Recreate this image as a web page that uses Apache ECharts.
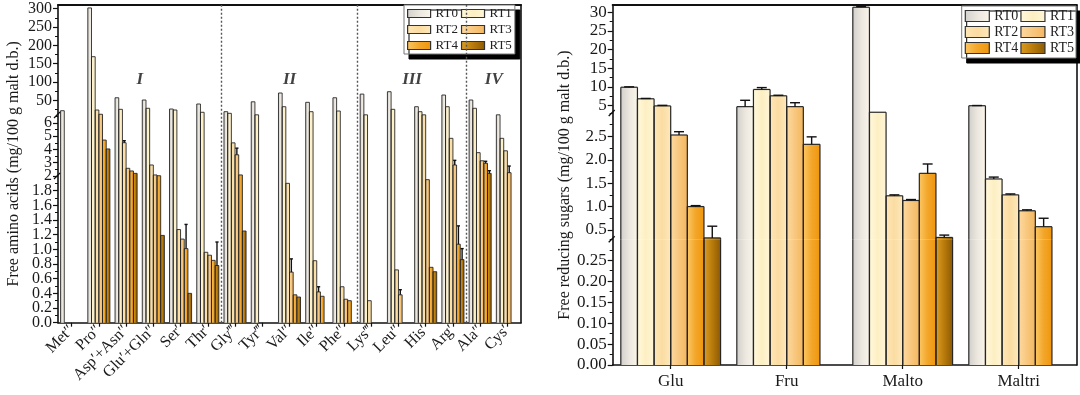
<!DOCTYPE html>
<html><head><meta charset="utf-8">
<script src="https://cdn.jsdelivr.net/npm/echarts@6/dist/echarts.min.js"></script>
<style>html,body{margin:0;padding:0;background:#fff}#c{width:1080px;height:395px}</style>
</head><body><div id="c"></div>
<script>
// ---------------- DATA ----------------
const seriesNames = ['RT0','RT1','RT2','RT3','RT4','RT5'];

const aaCategories = ['Met″','Pro″','Asp′+Asn″','Glu′+Gln″','Ser′','Thr′','Gly‴','Tyr‴','Val″','Ile″','Phe″','Lys‴','Leu″','His′','Arg′','Ala″','Cys′'];
const aaRT0 = [21.7, 302, 57, 50.9, 26.3, 40, 19, 46, 70, 44.6, 57, 67, 73.5, 32.6, 64.5, 50.9, 10.5];
const aaRT1 = [0, 169, 25.5, 28.3, 23.6, 17.4, 14.6, 10.5, 32.6, 19, 20.9, 10.5, 25.5, 19, 32.6, 28.3, 4.84];
const aaRT2 = [0, 23.6, 4.51, 2.83, 1.27, 0.96, 4.5, 0, 1.9, 0.845, 0.49, 0.30, 0.72, 10.5, 4.84, 3.76, 3.9];
const aaRT3 = [0, 12, 2.58, 2.08, 1.14, 0.92, 3.6, 0, 0.69, 0.42, 0.32, 0, 0.38, 1.95, 2.83, 3.15, 2.25];
const aaRT4 = [0, 4.71, 2.38, 2.02, 1.01, 0.85, 2.08, 0, 0.38, 0.36, 0.30, 0, 0, 0.755, 1.07, 2.96, 0];
const aaRT5 = [0, 4.04, 2.2, 1.19, 0.40, 0.78, 1.25, 0, 0.35, 0, 0, 0, 0, 0.695, 0.86, 2.2, 0];
const aaErrRT0 = [0,0,0,0,0,0,0,0,0,0,0,0,0,0,0,0,0];
const aaErrRT1 = [0,0,0,0,0,0,0,0,0,0,0,0,0,0,0,0,0];
const aaErrRT2 = [0,0,0.15,0,0,0,0,0,0,0,0,0,0,0,0,0,0];
const aaErrRT3 = [0,0,0,0,0,0,0.5,0,0.18,0.07,0,0,0.07,0,0.35,0,0.5];
const aaErrRT4 = [0,0,0,0,0.33,0,0,0,0,0,0,0,0,0,0.25,0.15,0];
const aaErrRT5 = [0,0,0,0,0,0.32,0,0,0,0,0,0,0,0,0.15,0.2,0];

const aaGroups = ['I','II','III','IV'];
const aaGroupCenters = [3, 8.5, 13, 16];
const aaGroupBounds = [6, 11, 15];

const aaTopTicks = [50,100,150,200,250,300];
const aaMidTicks = [2,3,4,5,6];
const aaLowTicks = [0,0.2,0.4,0.6,0.8,1.0,1.2,1.4,1.6,1.8];

const sugarCategories = ['Glu','Fru','Malto','Maltri'];
const sugarRT0 = [9.9, 4.7, 31.3, 4.95];
const sugarRT1 = [6.8, 9.3, 3.2, 1.59];
const sugarRT2 = [4.9, 7.6, 1.23, 1.25];
const sugarRT3 = [2.53, 4.7, 1.13, 0.91];
const sugarRT4 = [1.0, 2.33, 1.71, 0.57];
const sugarRT5 = [0.33, 0, 0.34, 0];
const sugarErrRT0 = [0.1, 1.7, 0.2, 0.05];
const sugarErrRT1 = [0.1, 0.5, 0, 0.04];
const sugarErrRT2 = [0.15, 0.15, 0.02, 0.02];
const sugarErrRT3 = [0.07, 1.05, 0.02, 0.02];
const sugarErrRT4 = [0.02, 0.16, 0.2, 0.18];
const sugarErrRT5 = [0.25, 0, 0.05, 0];

const sugarTopTicks = [5,10,15,20,25,30];
const sugarMidTicks = [0.5,1.0,1.5,2.0,2.5];
const sugarLowTicks = [0,0.05,0.10,0.15,0.20,0.25];

// ---------------- STYLE / LAYOUT ----------------
const FONT = 'Liberation Serif';
const barColors = [
  ['#d2d0cb','#ebe7df','#fbf5ea'],
  ['#fff8dc','#fdefc2','#fff6d8'],
  ['#fde6b6','#fbdca2','#fde8bb'],
  ['#fddaa0','#f8c77e','#f4b760'],
  ['#fbc663','#f3a62a','#ef960c'],
  ['#dc9c22','#b87a0c','#8c5a04']
];
function grad(j){
  const c = barColors[j];
  return new echarts.graphic.LinearGradient(0,0,1,0, c.map((col,i)=>({offset:i/(c.length-1), color:col})));
}
const aaValues = [aaRT0,aaRT1,aaRT2,aaRT3,aaRT4,aaRT5];
const aaErrs = [aaErrRT0,aaErrRT1,aaErrRT2,aaErrRT3,aaErrRT4,aaErrRT5];
const sugarValues = [sugarRT0,sugarRT1,sugarRT2,sugarRT3,sugarRT4,sugarRT5];
const sugarErrs = [sugarErrRT0,sugarErrRT1,sugarErrRT2,sugarErrRT3,sugarErrRT4,sugarErrRT5];

const charts = [
  { left:58, width:463, cats:aaCategories, vals:aaValues, errs:aaErrs, gap:0.19, borderW:0.9, labelSize:16,
    xLabel:{rotate:45, fontSize:16, margin:5},
    title:'Free amino acids (mg/100 g malt d.b.)', nameGap:36,
    segs:[
      {top:5, height:110, min:10, max:310, ticks:aaTopTicks, minorStep:25, dec:0},
      {top:115, height:61, min:2, max:6.6, ticks:aaMidTicks, minorStep:0.5, dec:0},
      {top:176, height:146.7, min:0, max:2, ticks:aaLowTicks, minorStep:0.1, dec:1}
    ]},
  { left:612.7, width:464, cats:sugarCategories, vals:sugarValues, errs:sugarErrs, gap:0.14, borderW:1.2, labelSize:17,
    xLabel:{rotate:0, fontSize:17, margin:8},
    title:'Free reducing sugars (mg/100 g malt d.b.)', nameGap:40,
    segs:[
      {top:5, height:108, min:3, max:31.9, ticks:sugarTopTicks, minorStep:2.5, dec:0},
      {top:113, height:126.3, min:0.3, max:3.0, ticks:sugarMidTicks, minorStep:0.25, dec:1},
      {top:239.3, height:125.7, min:0, max:0.3, ticks:sugarLowTicks, minorStep:0.025, dec:2}
    ]}
];

const grids = [], xAxes = [], yAxes = [], series = [], graphics = [];

function minorTicks(seg){
  const out = [];
  const s = seg.minorStep;
  for (let k = Math.ceil(seg.min/s - 1e-9); k*s <= seg.max + 1e-9; k++){
    const v = +(k*s).toFixed(4);
    if (!seg.ticks.some(t => Math.abs(t - v) < 1e-6)) out.push(v);
  }
  return out;
}

// outlines + error bars, clipped by hand to each segment
function outlineRender(gap, lw){
  return function(params, api){
    const cat = api.value(0), j = api.value(1), v = api.value(2), e = api.value(3);
    const cs = params.coordSys;
    const band = api.size([1,0])[0];
    const bw = band*(1-gap)/6;
    const pv = api.coord([cat, v]);
    const p0 = api.coord([cat, 0]);
    const xl = pv[0] + (j-3)*bw, xr = xl + bw, xc = xl + bw/2;
    const top = cs.y, bot = cs.y + cs.height;
    const clamp = (y) => Math.min(Math.max(y, top), bot);
    const children = [];
    const st = {stroke:'#262626', lineWidth:lw};
    const a = clamp(pv[1]), b = clamp(p0[1]);
    if (b - a > 0.01) {
      children.push({type:'line', shape:{x1:xl,y1:a,x2:xl,y2:b}, style:st});
      children.push({type:'line', shape:{x1:xr,y1:a,x2:xr,y2:b}, style:st});
      if (pv[1] >= top - 0.01 && pv[1] <= bot) children.push({type:'line', shape:{x1:xl,y1:pv[1],x2:xr,y2:pv[1]}, style:st});
    }
    if (e > 0) {
      const pe = api.coord([cat, v+e]);
      const ea = clamp(pv[1]), eb = clamp(pe[1]);
      const es = {stroke:'#111', lineWidth:1.4};
      if (ea - eb > 0.01) children.push({type:'line', shape:{x1:xc,y1:ea,x2:xc,y2:eb}, style:es});
      if (pe[1] >= top && pe[1] <= bot) {
        const cw = Math.max(bw*0.3, 1.6);
        children.push({type:'line', shape:{x1:xc-cw,y1:pe[1],x2:xc+cw,y2:pe[1]}, style:es});
      }
    }
    return {type:'group', children};
  };
}

charts.forEach((ch, ci) => {
  const gBase = grids.length;
  ch.segs.forEach((seg, si) => {
    const gi = gBase + si;
    grids.push({left:ch.left, top:seg.top, width:ch.width, height:seg.height, outerBoundsMode:'none', containLabel:false});
    const isBottom = si === ch.segs.length-1;
    xAxes.push({
      gridIndex:gi, type:'category', data:ch.cats, position:'bottom', show:isBottom,
      axisLine:{show:true, onZero:false, lineStyle:{color:'#111', width:1.6}},
      axisTick:{show:true, alignWithLabel:true, length:4, lineStyle:{color:'#111', width:1.2}},
      axisLabel:{interval:0, rotate:ch.xLabel.rotate, fontFamily:FONT, fontSize:ch.xLabel.fontSize, color:'#1a1a1a', margin:ch.xLabel.margin, hideOverlap:false},
      splitLine:{show:false}
    });
    const firstY = yAxes.length;
    // labelled ticks split across two coincident axes so that neighbouring labels never get auto-hidden
    [0,1].forEach(p => {
      const vals = seg.ticks.filter((_, i) => i % 2 === p);
      yAxes.push({
        gridIndex:gi, type:'value', min:seg.min, max:seg.max, position:'left',
        axisLine:{show:false, onZero:false}, splitLine:{show:false},
        axisTick:{show:true, length:5, customValues:vals, lineStyle:{color:'#111', width:1.2}},
        axisLabel:{show:true, customValues:vals, formatter:(v)=>Number(v).toFixed(seg.dec),
          fontFamily:FONT, fontSize:ch.labelSize, color:'#1a1a1a', margin:6, hideOverlap:false}
      });
    });
    yAxes.push({
      gridIndex:gi, type:'value', min:seg.min, max:seg.max, position:'left',
      axisLine:{show:false, onZero:false}, splitLine:{show:false},
      axisTick:{show:true, length:3, customValues:minorTicks(seg), lineStyle:{color:'#111', width:1}},
      axisLabel:{show:false}
    });
    const majorY = firstY;
    for (let j = 0; j < 6; j++) {
      series.push({
        type:'bar', name:seriesNames[j], xAxisIndex:gi, yAxisIndex:majorY,
        data:ch.vals[j], barGap:0, barCategoryGap:(ch.gap*100)+'%', clip:true,
        itemStyle:{color:grad(j), borderWidth:0},
        emphasis:{disabled:true}, silent:true
      });
    }
    const od = [];
    for (let j = 0; j < 6; j++) ch.vals[j].forEach((v, k) => { if (v > 0) od.push([k, j, v, ch.errs[j][k]]); });
    series.push({
      type:'custom', xAxisIndex:gi, yAxisIndex:majorY, renderItem:outlineRender(ch.gap, ch.borderW),
      data:od, silent:true, z:5, encode:{x:0, y:2}
    });
    if (si > 0) {
      graphics.push({type:'line', silent:true, z:100,
        shape:{x1:ch.left-4, y1:seg.top+3, x2:ch.left+2, y2:seg.top-3},
        style:{stroke:'#111', lineWidth:1.3}});
    }
  });
  const first = ch.segs[0], last = ch.segs[ch.segs.length-1];
  const oi = grids.length;
  grids.push({left:ch.left, top:first.top, width:ch.width, height:last.top+last.height-first.top, outerBoundsMode:'none', containLabel:false});
  xAxes.push({gridIndex:oi, type:'value', min:0, max:ch.cats.length, position:'top',
    axisLine:{show:true, onZero:false, lineStyle:{color:'#111', width:2}},
    axisTick:{show:false}, axisLabel:{show:false}, splitLine:{show:false}});
  yAxes.push({gridIndex:oi, type:'value', min:0, max:1, position:'left',
    axisLine:{show:true, onZero:false, lineStyle:{color:'#111', width:1.6}},
    axisTick:{show:false}, axisLabel:{show:false}, splitLine:{show:false},
    name:ch.title, nameLocation:'middle', nameGap:ch.nameGap,
    nameTextStyle:{fontFamily:FONT, fontSize:16, color:'#1a1a1a'}});
  yAxes.push({gridIndex:oi, type:'value', min:0, max:1, position:'right',
    axisLine:{show:true, onZero:false, lineStyle:{color:'#111', width:1.6}},
    axisTick:{show:false}, axisLabel:{show:false}, splitLine:{show:false}});
  if (ci === 0) {
    series.push({
      type:'scatter', xAxisIndex:xAxes.length-1, yAxisIndex:yAxes.length-2,
      symbolSize:0, silent:true, z:1,
      data:aaGroupCenters.map((c,i)=>({value:[c, 0.764], label:{formatter:aaGroups[i]}})),
      label:{show:true, position:'inside', fontFamily:FONT, fontSize:17, fontStyle:'italic', fontWeight:'bold', color:'#111'},
      labelLayout:{hideOverlap:false},
      markLine:{silent:true, symbol:'none', label:{show:false},
        lineStyle:{type:[2,2], color:'#555', width:1.4},
        data:aaGroupBounds.map(b=>({xAxis:b}))}
    });
  }
});

const legendBase = {
  data:seriesNames, orient:'horizontal', icon:'rect',
  backgroundColor:'#fff', borderColor:'#777', borderWidth:1,
  shadowColor:'#000', shadowBlur:0, shadowOffsetX:5, shadowOffsetY:5,
  selectedMode:false, itemStyle:{borderColor:'#333', borderWidth:1.2}
};
const option = {
  animation:false,
  textStyle:{fontFamily:FONT},
  legend:[
    Object.assign({}, legendBase, {left:404, top:5, width:116, itemWidth:23, itemHeight:8, itemGap:3,
      padding:[2,3,2,3], textStyle:{fontFamily:FONT, fontSize:13, lineHeight:12, color:'#222'}}),
    Object.assign({}, legendBase, {right:4, top:6, width:120, itemWidth:24, itemHeight:11, itemGap:2,
      padding:[3,2,3,3], textStyle:{fontFamily:FONT, fontSize:14, lineHeight:14, color:'#222'}})
  ],
  grid:grids, xAxis:xAxes, yAxis:yAxes, series:series, graphic:graphics
};
const chart = echarts.init(document.getElementById('c'));
chart.setOption(option);
</script></body></html>
